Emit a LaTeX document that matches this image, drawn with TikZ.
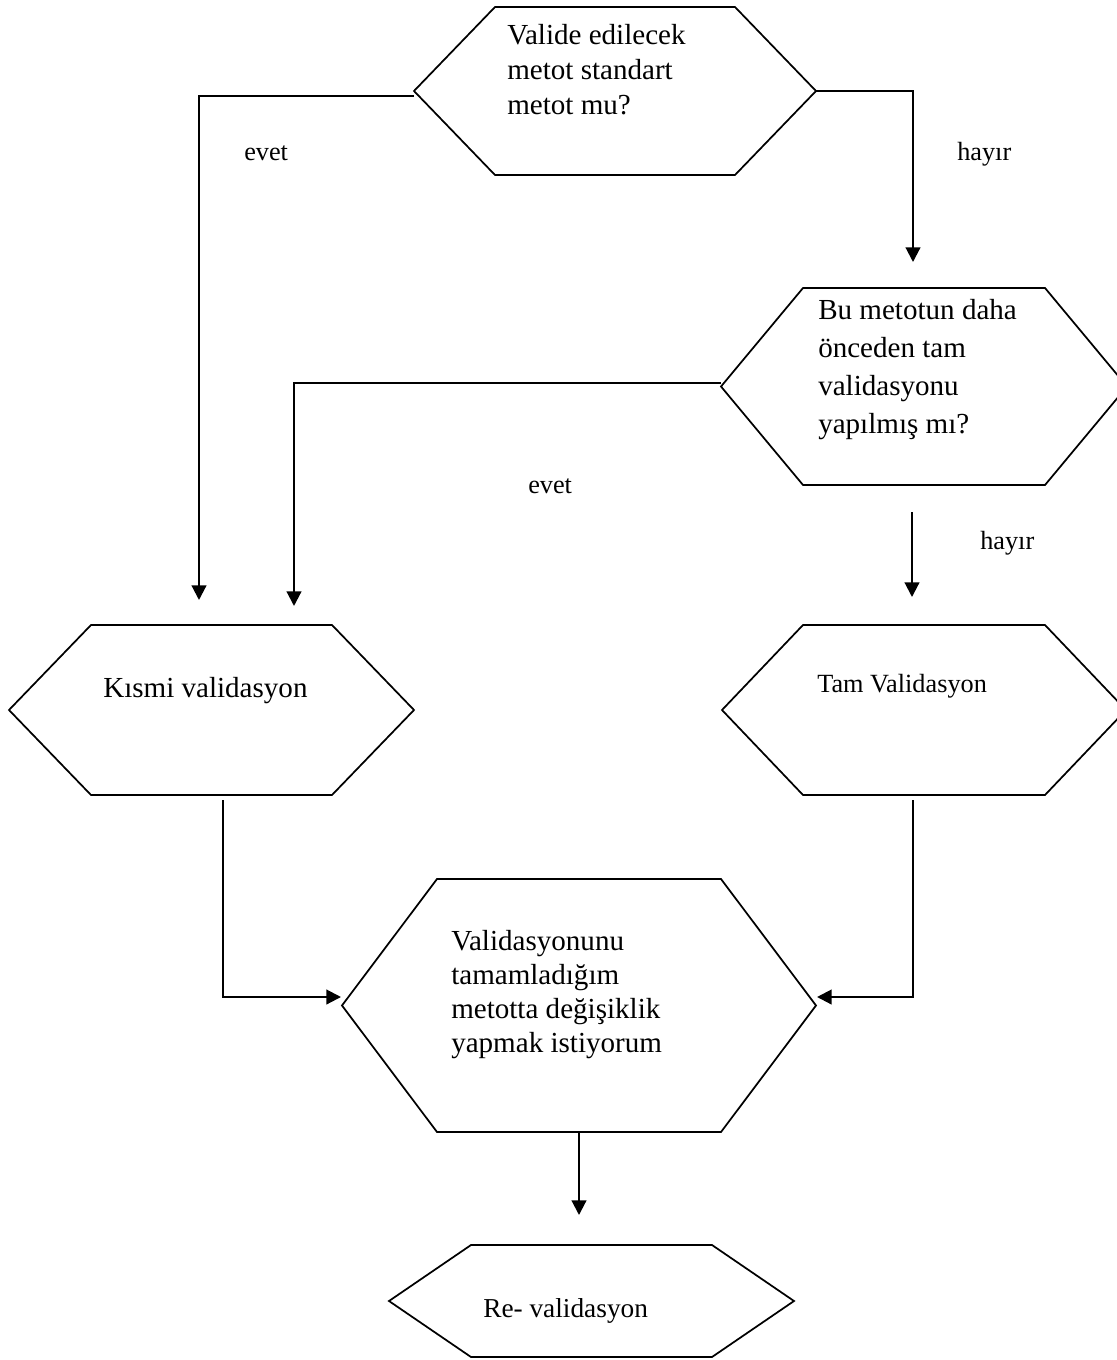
\documentclass[tikz,border=0pt]{standalone}
\usepackage{fontspec}
\setmainfont{Liberation Serif}
\usetikzlibrary{arrows.meta,calc}

% Hexagon: name, centre x, centre y, half width of flat side, half height, tip length
\newcommand\hexfig[6]{%
  \node[hexcore, minimum width={1.5pt*#4}, minimum height={1.5pt*#5}] (#1) at (#2,#3) {};
  \coordinate (#1-w) at ({#2-#4-#6},#3);
  \coordinate (#1-e) at ({#2+#4+#6},#3);
  \draw[hexline] (#1.north west) -- (#1.north east) -- (#1-e) -- (#1.south east)
    -- (#1.south west) -- (#1-w) -- cycle;
}

\begin{document}
\begin{tikzpicture}[x=0.75pt, y=-0.75pt,
  hexcore/.style={rectangle, draw=none, inner sep=0pt, outer sep=0pt},
  hexline/.style={line width=1.3pt, line join=miter},
  flow/.style={line width=1.6pt, -{Triangle[length=11pt, width=11pt]}},
  bigtxt/.style={font=\fontsize{21.8}{25.9}\selectfont, align=left, inner sep=0pt, anchor=base west},
  smalltxt/.style={font=\fontsize{19.7}{23}\selectfont, inner sep=0pt, anchor=base west}]

\useasboundingbox (0,0) rectangle (1117,1360);

% shapes
\hexfig{q1}{615}{91}{120}{84}{81}
\hexfig{q2}{924}{386.5}{121}{98.5}{82}
\hexfig{kismi}{211.5}{710}{120.5}{85}{82}
\hexfig{tam}{924}{710}{121}{85}{81}
\hexfig{degis}{579}{1005.5}{142}{126.5}{95}
\hexfig{reval}{591.5}{1301}{120.5}{56}{82}

% texts inside shapes (anchored at the baseline of the last line)
\node[bigtxt] (q1t) at (507,114) {Valide edilecek\\metot standart\\metot mu?};
\node[bigtxt, font=\fontsize{21.8}{28.3}\selectfont] (q2t) at (818,433) {Bu metotun daha\\önceden tam\\validasyonu\\yapılmış mı?};
\node[bigtxt] (kismit) at (103,697) {Kısmi validasyon};
\node[smalltxt] (tamt) at (817,692) {Tam Validasyon};
\node[bigtxt, font=\fontsize{21.8}{25.3}\selectfont] (degist) at (451,1052) {Validasyonunu\\tamamladığım\\metotta değişiklik\\yapmak istiyorum};
\node[bigtxt, font=\fontsize{20.5}{24}\selectfont] (revalt) at (483,1317) {Re- validasyon};

% branch labels
\node[smalltxt] (lbl1) at (244,160) {evet};
\node[smalltxt] (lbl2) at (957,160) {hayır};
\node[smalltxt] (lbl3) at (528,493) {evet};
\node[smalltxt] (lbl4) at (980,549) {hayır};

% free arrow ends
\coordinate (e1tip) at (199,600);
\coordinate (h1tip) at (913,262);
\coordinate (e2tip) at (294,606);
\coordinate (h2top) at (912,512);
\coordinate (h2tip) at (912,597);
\coordinate (rtip) at (579,1215);

% connectors
\draw[flow] ($(q1-w)+(0,5)$) -| (e1tip);
\draw[flow] (q1-e) -| (h1tip);
\draw[flow] ($(q2-w)+(0,-3.5)$) -| (e2tip);
\draw[flow] (h2top) -- (h2tip);
\draw[flow] ($(kismi.south)+(11.5,5)$) |- ($(degis-w)+(-1,-8.5)$);
\draw[flow] ($(tam.south)+(-11,5)$) |- ($(degis-e)+(1,-8.5)$);
\draw[flow] (degis.south) -- (rtip);
\end{tikzpicture}
\end{document}
